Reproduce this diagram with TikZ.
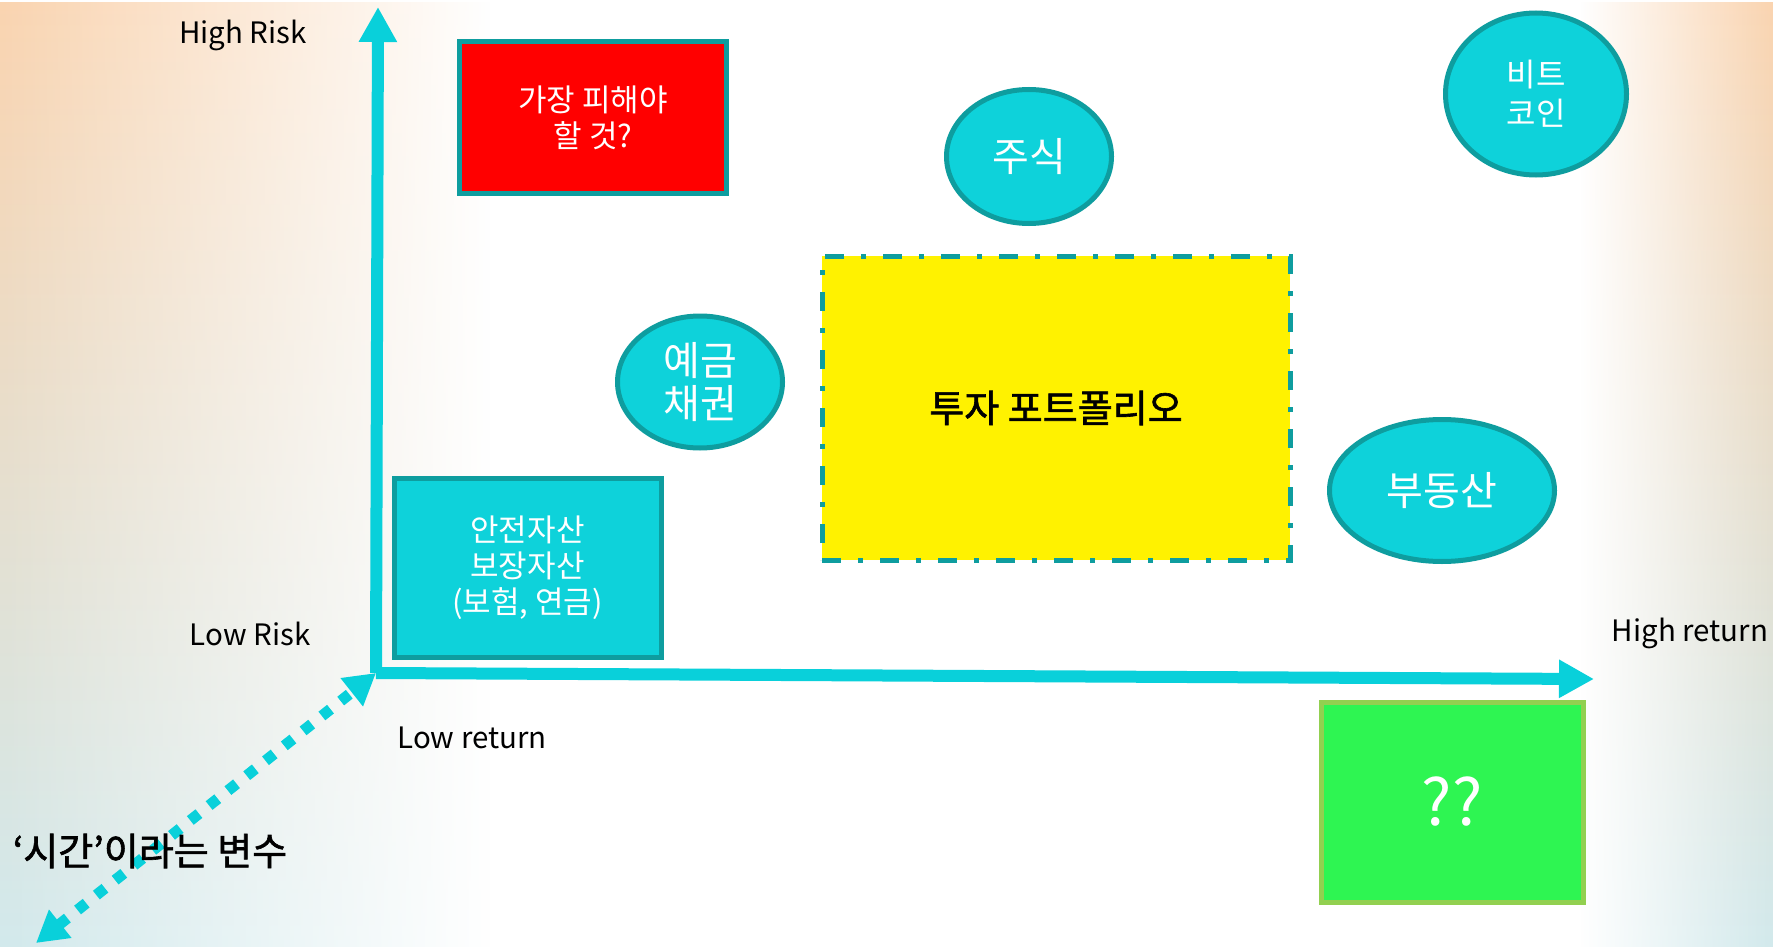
\documentclass[tikz,border=0pt]{standalone}
\usepackage{fontspec}
\setmainfont{Noto Sans CJK KR}
\newfontfamily\medkr[FakeBold=1.6]{Noto Sans CJK KR}
\usetikzlibrary{shapes.geometric,arrows.meta,fadings}

\definecolor{axiscyan}{RGB}{9,208,218}
\definecolor{bubblecyan}{RGB}{14,210,218}
\definecolor{edgeteal}{RGB}{14,157,159}
\definecolor{boxgreen}{RGB}{46,245,82}
\definecolor{edgegreen}{RGB}{146,208,80}
\definecolor{peach}{RGB}{250,212,176}
\definecolor{haze}{RGB}{244,240,234}
\definecolor{mist}{RGB}{210,233,236}

\tikzfading[name=fadeeast, left color=transparent!0, right color=transparent!100]
\tikzfading[name=fadewest, left color=transparent!100, right color=transparent!0]

\begin{document}
\begin{tikzpicture}[x=1pt,y=-1pt,
    axisline/.style={line width=12pt,draw=axiscyan,-{Triangle[length=35pt,width=36pt]}},
    bubble/.style={ellipse,draw=edgeteal,fill=bubblecyan,line width=5pt,inner sep=0pt,text=white,align=center},
    assetbox/.style={rectangle,line width=5pt,inner sep=0pt,align=center},
    axislabel/.style={font=\fontsize{29.5}{35}\selectfont,text=black}]
    \useasboundingbox (0,0) rectangle (1773,947);

    % background
    \fill[white] (0,0) rectangle (1773,947);
    \shade[top color=peach,middle color=haze,bottom color=mist,path fading=fadeeast] (0,0) rectangle (490,947);
    \shade[top color=peach,middle color=white,bottom color=mist,path fading=fadewest] (1580,0) rectangle (1773,947);

    % axes
    \coordinate (origin) at (376,673);
    \coordinate (ytop) at (378,7);
    \coordinate (xend) at (1594,679);
    \coordinate (tend) at (36,943);
    \draw[axisline] (origin)--(ytop);
    \draw[axisline] (origin)--(xend);
    \draw[line width=11pt,axiscyan,dash pattern=on 11pt off 13pt,
        {Triangle[length=31pt,width=34pt]}-{Triangle[length=31pt,width=34pt]}] (tend)--(origin);

    \node[axislabel] (hirisk) at (243,35) {High Risk};
    \node[axislabel] (lorisk) at (250,634) {Low Risk};
    \node[axislabel] (loret) at (472,738) {Low return};
    \node[axislabel] (hiret) at (1690,633) {High return};
    \node[font=\fontsize{38}{44}\selectfont\medkr] (timevar) at (150,851) {‘시간’이라는 변수};

    % assets
    \node[assetbox,draw=edgeteal,fill=red,text=white,minimum width=267pt,minimum height=152pt,
        font=\fontsize{31}{36}\selectfont] (avoid) at (593,117.5) {가장 피해야\\할 것?};
    \node[assetbox,draw=edgeteal,fill=bubblecyan,text=white,minimum width=267pt,minimum height=179pt,
        font=\fontsize{31}{36}\selectfont] (safe) at (527.5,567.5) {안전자산\\보장자산\\(보험, 연금)};
    \node[assetbox,draw=edgeteal,fill=yellow,dash pattern=on 19pt off 17pt on 5pt off 17pt,
        minimum width=468pt,minimum height=304pt,font=\fontsize{38}{44}\selectfont\medkr] (folio) at (1056,408) {투자 포트폴리오};
    \node[assetbox,draw=edgegreen,fill=boxgreen,text=white,minimum width=262pt,minimum height=200pt,
        font=\fontsize{64}{70}\selectfont] (unknown) at (1452,802) {??};

    \node[bubble,minimum width=165pt,minimum height=134pt,font=\fontsize{40}{46}\selectfont] (stock) at (1029,156.5) {주식};
    \node[bubble,minimum width=165pt,minimum height=132pt,font=\fontsize{40}{43}\selectfont] (bond) at (700,382) {예금\\채권};
    \node[bubble,minimum width=225pt,minimum height=142pt,font=\fontsize{40}{46}\selectfont] (estate) at (1442,490.5) {부동산};
    \node[bubble,minimum width=181pt,minimum height=162pt,font=\fontsize{32}{39}\selectfont] (coin) at (1536,94) {비트\\코인};
\end{tikzpicture}
\end{document}
